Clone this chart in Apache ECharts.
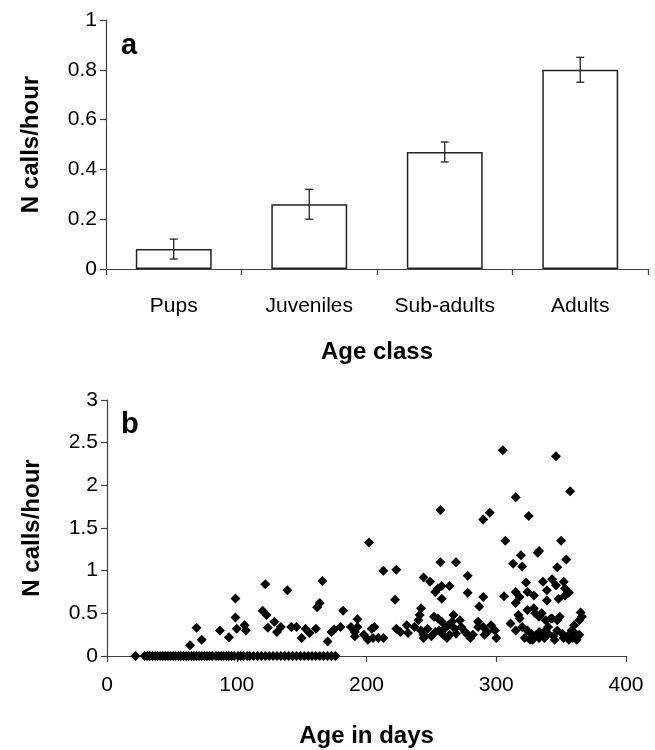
<!DOCTYPE html>
<html>
<head>
<meta charset="utf-8">
<script src="https://cdn.jsdelivr.net/npm/echarts@6/dist/echarts.min.js"></script>
<style>html,body{margin:0;padding:0;background:#fff}#c{width:655px;height:750px}</style>
</head>
<body>
<div id="c"></div>
<script>
// Panel a data
const ageClasses = ['Pups', 'Juveniles', 'Sub-adults', 'Adults'];
const meanCalls = [0.08, 0.26, 0.47, 0.80];
const errLow = [0.04, 0.20, 0.43, 0.75];
const errHigh = [0.12, 0.32, 0.51, 0.85];

// Panel b data: zero-call observations (age in days)
const zeroDays = [22, 29, 31, 33, 35, 37, 39, 41, 43, 45, 47, 49, 51, 53, 55, 57, 59, 61, 63, 65,
  67, 69, 71, 73, 75, 77, 79, 81, 84, 86, 88, 90, 92, 94, 96, 98, 101, 103, 105, 108,
  110, 113, 116, 119, 122, 125, 128, 131, 134, 137, 140, 143, 146, 149, 152, 155, 158,
  161, 164, 167, 170, 173, 176];
// Panel b data: non-zero observations [age in days, calls/hour]
const callPoints = [
  [64,0.125],[69,0.33],[73,0.19],[87,0.30],[94,0.22],[99,0.675],[99,0.45],[100,0.32],[106,0.36],[107,0.30],
  [120,0.53],[122,0.84],[123,0.48],[124,0.33],[129,0.40],[131,0.28],[134,0.34],[139,0.77],[142,0.34],[146,0.34],
  [150,0.21],[153,0.32],[156,0.27],[161,0.32],[162,0.57],[164,0.62],[166,0.88],[170,0.17],[173,0.28],[175,0.31],
  [180,0.34],[182,0.53],[188,0.34],[191,0.28],[191,0.23],[193,0.43],[193,0.34],[198,0.25],[201,0.19],[202,1.33],
  [204,0.32],[206,0.34],[205,0.21],[209,0.21],[213,0.21],[213,1.00],[222,0.66],[223,1.01],[223,0.32],[226,0.28],
  [231,0.36],[232,0.27],[237,0.34],[240,0.42],[241,0.48],[242,0.56],[242,0.30],[244,0.25],[244,0.21],[244,0.92],
  [247,0.32],[249,0.87],[250,0.23],[252,0.46],[253,0.28],[253,0.75],[255,0.79],[255,0.44],[256,0.30],[257,1.71],
  [257,1.10],[258,0.82],[258,0.67],[258,0.40],[259,0.25],[260,0.32],[262,0.21],[263,0.36],[264,0.82],[264,0.25],
  [266,0.40],[267,0.48],[268,0.32],[269,0.26],[269,1.10],[272,0.42],[273,0.34],[276,0.28],[278,0.94],[278,0.74],
  [278,0.25],[280,0.21],[282,0.25],[286,0.40],[286,0.34],[287,0.58],[290,0.69],[290,0.34],[290,1.60],[291,0.25],
  [293,0.28],[295,1.68],[296,0.36],[299,0.30],[300,0.21],[305,2.41],[306,0.70],[307,1.35],[311,0.38],[313,1.08],
  [315,0.75],[315,0.62],[315,0.30],[315,1.86],[317,0.48],[318,0.44],[318,0.69],[319,1.18],[320,1.05],[320,0.34],
  [323,0.86],[324,0.75],[324,0.54],[324,0.30],[325,1.64],[326,0.19],[327,0.26],[329,0.71],[329,0.56],[330,0.50],
  [330,0.23],[332,1.21],[333,0.46],[333,0.28],[333,0.21],[333,1.23],[335,0.25],[335,0.50],[336,0.87],[338,0.30],
  [338,0.42],[339,0.77],[339,0.65],[340,0.26],[340,0.34],[342,0.44],[343,0.90],[343,0.44],[344,0.23],[346,0.83],
  [346,2.34],[347,1.04],[347,0.42],[347,0.30],[348,0.67],[349,0.46],[350,1.35],[351,0.26],[352,0.87],[352,0.21],
  [353,0.79],[353,0.71],[354,1.13],[355,0.23],[356,0.74],[356,0.19],[357,1.93],[358,0.30],[360,0.36],[361,0.26],
  [364,0.42],[364,0.25],[365,0.51],[366,0.46],[322,0.21],[328,0.19],[337,0.21],[345,0.19],[359,0.21],[362,0.19]
];

const FONT = '"Liberation Sans", Arial, sans-serif';
const AXIS_COLOR = '#404040';
const scatterData = zeroDays.map(d => [d, 0]).concat(callPoints);
const errData = ageClasses.map((c, i) => [i, errLow[i], errHigh[i]]);

const chart = echarts.init(document.getElementById('c'), null, {renderer: 'canvas'});
const axisLine = {show: true, lineStyle: {color: AXIS_COLOR, width: 1.2}};
const axisTick = {show: true, length: 6, lineStyle: {color: AXIS_COLOR, width: 1.2}};
const lbl = {color: '#000', fontFamily: FONT, fontSize: 21};
const nameStyle = {color: '#000', fontFamily: FONT, fontSize: 24, fontWeight: 'bold'};

chart.setOption({
  animation: false,
  backgroundColor: '#fff',
  grid: [
    {left: 106, top: 20, width: 542, height: 249},
    {left: 107, top: 400, width: 519, height: 256}
  ],
  xAxis: [
    {gridIndex: 0, type: 'category', data: ageClasses, boundaryGap: true,
     axisLine: axisLine, axisTick: Object.assign({alignWithLabel: false}, axisTick),
     axisLabel: Object.assign({margin: 27}, lbl),
     name: 'Age class', nameLocation: 'middle', nameGap: 71, nameTextStyle: nameStyle,
     splitLine: {show: false}},
    {gridIndex: 1, type: 'value', min: 0, max: 400, interval: 100,
     axisLine: axisLine, axisTick: axisTick,
     axisLabel: Object.assign({margin: 19}, lbl),
     name: 'Age in days', nameLocation: 'middle', nameGap: 68, nameTextStyle: nameStyle,
     splitLine: {show: false}}
  ],
  yAxis: [
    {gridIndex: 0, type: 'value', min: 0, max: 1, interval: 0.2,
     axisLine: axisLine, axisTick: axisTick,
     axisLabel: Object.assign({margin: 9}, lbl),
     name: 'N calls/hour', nameLocation: 'middle', nameGap: 63, nameRotate: 90, nameTextStyle: nameStyle,
     splitLine: {show: false}},
    {gridIndex: 1, type: 'value', min: 0, max: 3, interval: 0.5,
     axisLine: axisLine, axisTick: axisTick,
     axisLabel: Object.assign({margin: 9}, lbl),
     name: 'N calls/hour', nameLocation: 'middle', nameGap: 63, nameRotate: 90, nameTextStyle: nameStyle,
     splitLine: {show: false}}
  ],
  series: [
    {type: 'bar', xAxisIndex: 0, yAxisIndex: 0, data: meanCalls, barWidth: '56%',
     itemStyle: {color: '#fff', borderColor: '#222', borderWidth: 1.5}},
    {type: 'custom', xAxisIndex: 0, yAxisIndex: 0, data: errData, z: 5,
     renderItem: function (params, api) {
       const lo = api.coord([api.value(0), api.value(1)]);
       const hi = api.coord([api.value(0), api.value(2)]);
       const cap = 4;
       const st = {stroke: '#222', lineWidth: 1.3};
       return {type: 'group', children: [
         {type: 'line', shape: {x1: lo[0], y1: lo[1], x2: hi[0], y2: hi[1]}, style: st},
         {type: 'line', shape: {x1: lo[0] - cap, y1: lo[1], x2: lo[0] + cap, y2: lo[1]}, style: st},
         {type: 'line', shape: {x1: hi[0] - cap, y1: hi[1], x2: hi[0] + cap, y2: hi[1]}, style: st}
       ]};
     }},
    {type: 'scatter', xAxisIndex: 1, yAxisIndex: 1, data: scatterData,
     symbol: 'diamond', symbolSize: [10, 10], itemStyle: {color: '#000', opacity: 1}}
  ],
  graphic: [
    {type: 'text', left: 121, top: 31, style: {text: 'a', font: 'bold 29px ' + FONT, fill: '#000'}},
    {type: 'text', left: 121, top: 410, style: {text: 'b', font: 'bold 29px ' + FONT, fill: '#000'}}
  ]
});
</script>
</body>
</html>
